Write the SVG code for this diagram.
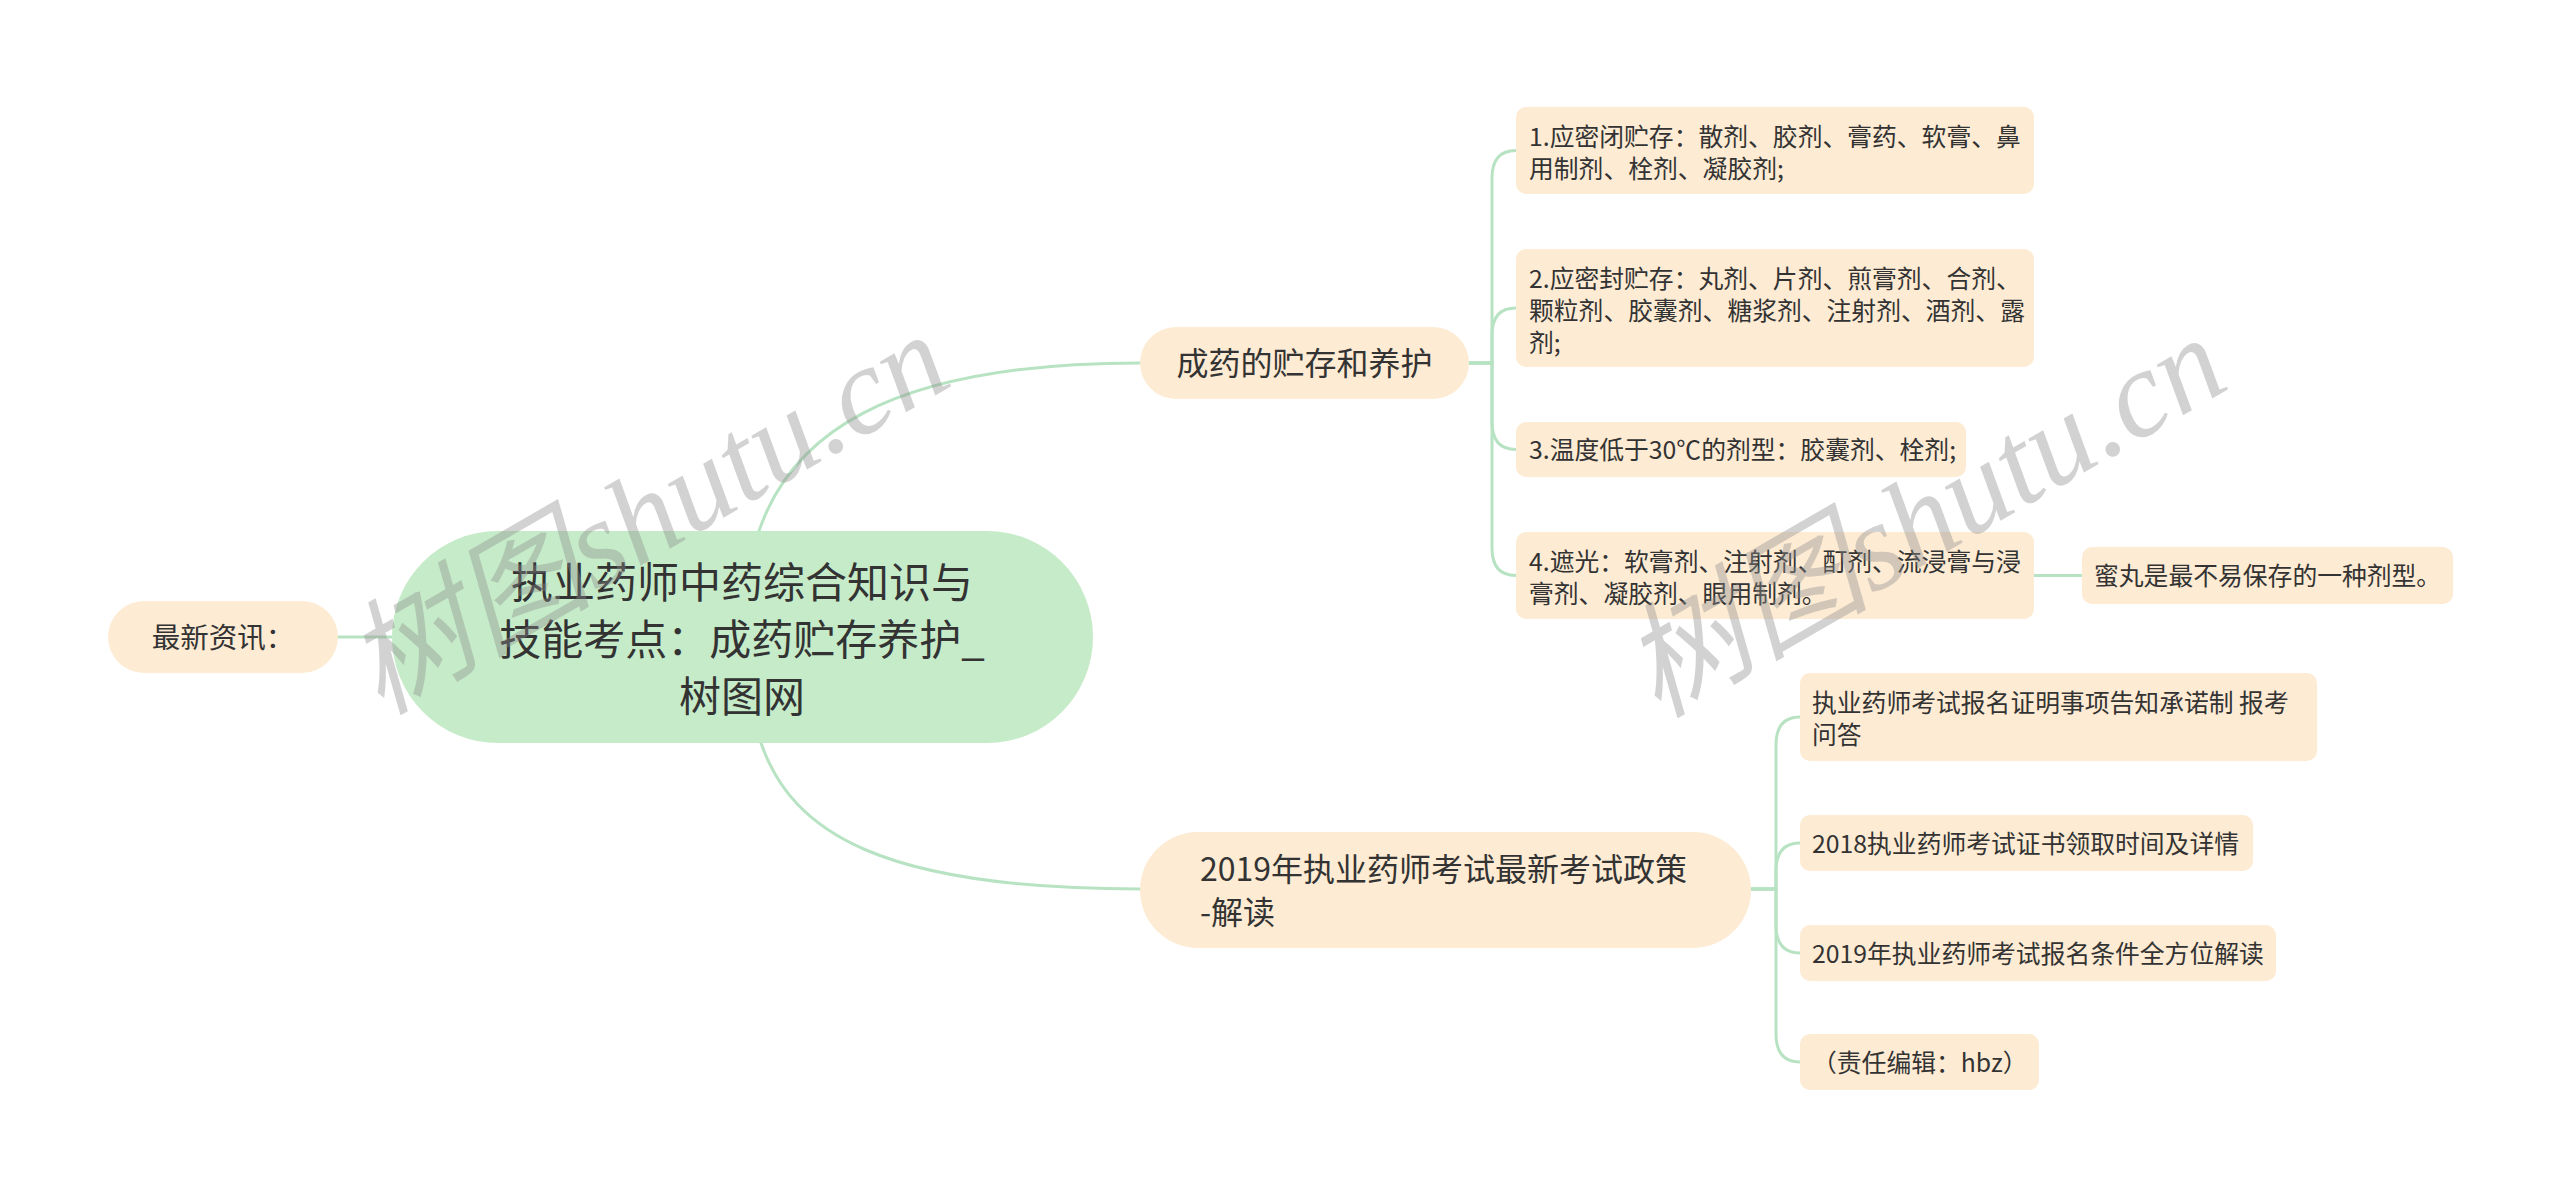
<svg xmlns="http://www.w3.org/2000/svg" width="2560" height="1197" viewBox="0 0 2560 1197">
<style>
.bg{fill:#ffffff}
.peach{fill:#fdebd3}
.root{fill:#c6ebc9}
.t{font-family:"Noto Sans CJK SC","Liberation Sans",sans-serif;fill:#333333}
.s{font-size:24.8px}
.m{font-size:32px}
.conn path,.conn line{fill:none;stroke:#b8e3c3;stroke-width:3;stroke-linecap:round}
.wm{font-family:"Liberation Serif","Noto Sans CJK SC",serif;font-style:italic;font-size:124px;fill:#8c8c8c;opacity:0.38}
</style>
<rect class="bg" x="0" y="0" width="2560" height="1197"/>
<g class="conn" id="connectors">
<line x1="338" y1="637" x2="392" y2="637"/>
<path d="M759 531 C790 440 880 363 1140 363"/>
<path d="M761 743 C792 833 882 889 1140 889"/>
<path d="M1469 363 H1492 V178 Q1492 150.5 1516 150.5"/>
<path d="M1469 363 H1492 V335 Q1492 308 1516 308"/>
<path d="M1469 363 H1492 V422 Q1492 449.5 1516 449.5"/>
<path d="M1469 363 H1492 V548 Q1492 575.5 1516 575.5"/>
<line x1="2034" y1="575.5" x2="2082" y2="575.5"/>
<path d="M1751 889 H1776 V745 Q1776 717 1800 717"/>
<path d="M1751 889 H1776 V871 Q1776 843 1800 843"/>
<path d="M1751 889 H1776 V925 Q1776 953 1800 953"/>
<path d="M1751 889 H1776 V1034 Q1776 1062 1800 1062"/>
</g>
<g id="node-news">
<rect class="peach" x="108" y="601" width="230" height="72" rx="36"/>
<text class="t" x="223" y="648" font-size="28.5" text-anchor="middle">最新资讯：</text>
</g>
<g id="node-root">
<rect class="root" x="392" y="531" width="701" height="212" rx="106"/>
<text class="t" font-size="42" text-anchor="middle"><tspan x="742" y="598">执业药师中药综合知识与</tspan><tspan x="742" y="655">技能考点：成药贮存养护_</tspan><tspan x="742" y="712">树图网</tspan></text>
</g>
<g id="node-storage">
<rect class="peach" x="1140" y="327" width="329" height="72" rx="36"/>
<text class="t m" x="1304.5" y="375" text-anchor="middle">成药的贮存和养护</text>
</g>
<g id="node-s1">
<rect class="peach" x="1516" y="107" width="518" height="87" rx="10"/>
<text class="t s"><tspan x="1529" y="146">1.应密闭贮存：散剂、胶剂、膏药、软膏、鼻</tspan><tspan x="1529" y="178">用制剂、栓剂、凝胶剂;</tspan></text>
</g>
<g id="node-s2">
<rect class="peach" x="1516" y="249" width="518" height="118" rx="10"/>
<text class="t s"><tspan x="1529" y="287.5">2.应密封贮存：丸剂、片剂、煎膏剂、合剂、</tspan><tspan x="1529" y="319.5">颗粒剂、胶囊剂、糖浆剂、注射剂、酒剂、露</tspan><tspan x="1529" y="351.5">剂;</tspan></text>
</g>
<g id="node-s3">
<rect class="peach" x="1516" y="422" width="450" height="55" rx="10"/>
<text class="t s" x="1529" y="459">3.温度低于30℃的剂型：胶囊剂、栓剂;</text>
</g>
<g id="node-s4">
<rect class="peach" x="1516" y="532" width="518" height="87" rx="10"/>
<text class="t s"><tspan x="1529" y="571">4.遮光：软膏剂、注射剂、酊剂、流浸膏与浸</tspan><tspan x="1529" y="603">膏剂、凝胶剂、眼用制剂。</tspan></text>
</g>
<g id="node-s4a">
<rect class="peach" x="2082" y="547" width="371" height="57" rx="10"/>
<text class="t s" x="2094" y="585">蜜丸是最不易保存的一种剂型。</text>
</g>
<g id="node-policy">
<rect class="peach" x="1140" y="832" width="611" height="116" rx="58"/>
<text class="t m"><tspan x="1200" y="881">2019年执业药师考试最新考试政策</tspan><tspan x="1200" y="924">-解读</tspan></text>
</g>
<g id="node-p1">
<rect class="peach" x="1800" y="673" width="517" height="88" rx="10"/>
<text class="t s"><tspan x="1812" y="712">执业药师考试报名证明事项告知承诺制 报考</tspan><tspan x="1812" y="744">问答</tspan></text>
</g>
<g id="node-p2">
<rect class="peach" x="1800" y="815" width="453" height="56" rx="10"/>
<text class="t s" x="1812" y="852.5">2018执业药师考试证书领取时间及详情</text>
</g>
<g id="node-p3">
<rect class="peach" x="1800" y="925" width="476" height="56" rx="10"/>
<text class="t s" x="1812" y="962.5">2019年执业药师考试报名条件全方位解读</text>
</g>
<g id="node-p4">
<rect class="peach" x="1800" y="1034" width="239" height="56" rx="10"/>
<text class="t s" x="1812" y="1071.5">（责任编辑：hbz）</text>
</g>
<g id="watermarks">
<text class="wm" x="0" y="40" text-anchor="middle" transform="translate(648,515) rotate(-30)">树图shutu.cn</text>
<text class="wm" x="0" y="40" text-anchor="middle" transform="translate(1925,518) rotate(-30)">树图shutu.cn</text>
</g>
</svg>
